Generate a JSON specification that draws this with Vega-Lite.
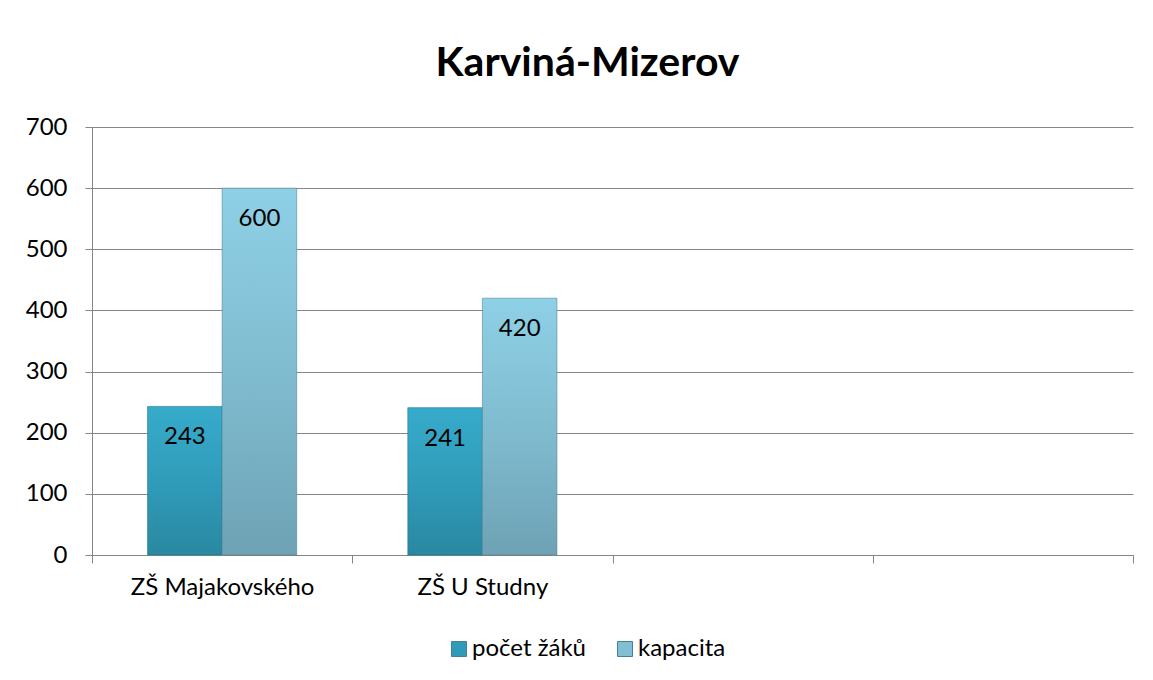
{
  "$schema": "https://vega.github.io/schema/vega-lite/v6.json",
  "autosize": "none",
  "width": 1041,
  "height": 428,
  "padding": {"left": 92, "top": 127, "right": 20, "bottom": 125},
  "background": "white",
  "title": {
    "text": "Karviná-Mizerov",
    "font": "Lato",
    "fontSize": 41,
    "fontWeight": "bold",
    "color": "#000000",
    "anchor": "middle",
    "dx": -25,
    "offset": 30
  },
  "data": {
    "values": [
      {"skola": "ZŠ Majakovského", "serie": "počet žáků", "hodnota": 243},
      {"skola": "ZŠ Majakovského", "serie": "kapacita", "hodnota": 600},
      {"skola": "ZŠ U Studny", "serie": "počet žáků", "hodnota": 241},
      {"skola": "ZŠ U Studny", "serie": "kapacita", "hodnota": 420}
    ]
  },
  "encoding": {
    "x": {
      "field": "skola",
      "type": "nominal",
      "scale": {"domain": ["ZŠ Majakovského", "ZŠ U Studny", " ", "  "], "paddingInner": 0, "paddingOuter": 0},
      "axis": {
        "title": null,
        "labelAngle": 0,
        "labelFont": "Lato",
        "labelFontSize": 24,
        "labelColor": "#000000",
        "labelPadding": 12,
        "labelLimit": 0,
        "labelOverlap": false,
        "tickBand": "extent",
        "tickSize": 8,
        "tickColor": "#868686",
        "domainColor": "#868686",
        "grid": false
      }
    },
    "xOffset": {"field": "serie", "type": "nominal", "scale": {"domain": ["počet žáků", "kapacita"], "paddingInner": 0, "paddingOuter": 0.745}},
    "y": {
      "field": "hodnota",
      "type": "quantitative",
      "scale": {"domain": [0, 700], "nice": false},
      "axis": {
        "title": null,
        "values": [0, 100, 200, 300, 400, 500, 600, 700],
        "labelFont": "Lato",
        "labelFontSize": 24,
        "labelColor": "#000000",
        "labelPadding": 18,
        "tickSize": 7,
        "tickColor": "#868686",
        "domainColor": "#868686",
        "gridColor": "#868686",
        "gridWidth": 1.2
      }
    }
  },
  "layer": [
    {
      "mark": {"type": "bar", "opacity": 0},
      "encoding": {
        "color": {
          "field": "serie",
          "type": "nominal",
          "scale": {"domain": ["počet žáků", "kapacita"], "range": ["#2f9bb9", "#80bfd4"]},
          "legend": {
            "title": null,
            "orient": "none",
            "direction": "horizontal",
            "legendX": 355,
            "legendY": 510,
            "symbolType": "square",
            "symbolSize": 225,
            "symbolOpacity": 1,
            "symbolStrokeColor": "#4a7f90",
            "symbolStrokeWidth": 1,
            "labelFont": "Lato",
            "labelFontSize": 24,
            "labelColor": "#000000",
            "labelOffset": 1,
            "labelLimit": 0,
            "columnPadding": 27
          }
        }
      }
    },
    {
      "transform": [{"filter": "datum.serie === 'počet žáků'"}],
      "mark": {
        "type": "bar",
        "stroke": "#1f6f84",
        "strokeWidth": 0.8,
        "strokeOpacity": 0.7,
        "color": {
          "gradient": "linear", "x1": 0, "y1": 0, "x2": 0, "y2": 1,
          "stops": [
            {"offset": 0, "color": "#37abca"},
            {"offset": 0.5, "color": "#309cba"},
            {"offset": 1, "color": "#2a88a1"}
          ]
        }
      }
    },
    {
      "transform": [{"filter": "datum.serie === 'kapacita'"}],
      "mark": {
        "type": "bar",
        "stroke": "#4f7f8f",
        "strokeWidth": 0.8,
        "strokeOpacity": 0.7,
        "color": {
          "gradient": "linear", "x1": 0, "y1": 0, "x2": 0, "y2": 1,
          "stops": [
            {"offset": 0, "color": "#8ed0e6"},
            {"offset": 0.5, "color": "#80bcd0"},
            {"offset": 1, "color": "#6ea2b4"}
          ]
        }
      }
    },
    {
      "mark": {"type": "text", "baseline": "alphabetic", "dy": 38, "font": "Lato", "fontSize": 24, "color": "#000000"},
      "encoding": {"text": {"field": "hodnota", "type": "quantitative"}}
    }
  ],
  "config": {"view": {"stroke": null}}
}
